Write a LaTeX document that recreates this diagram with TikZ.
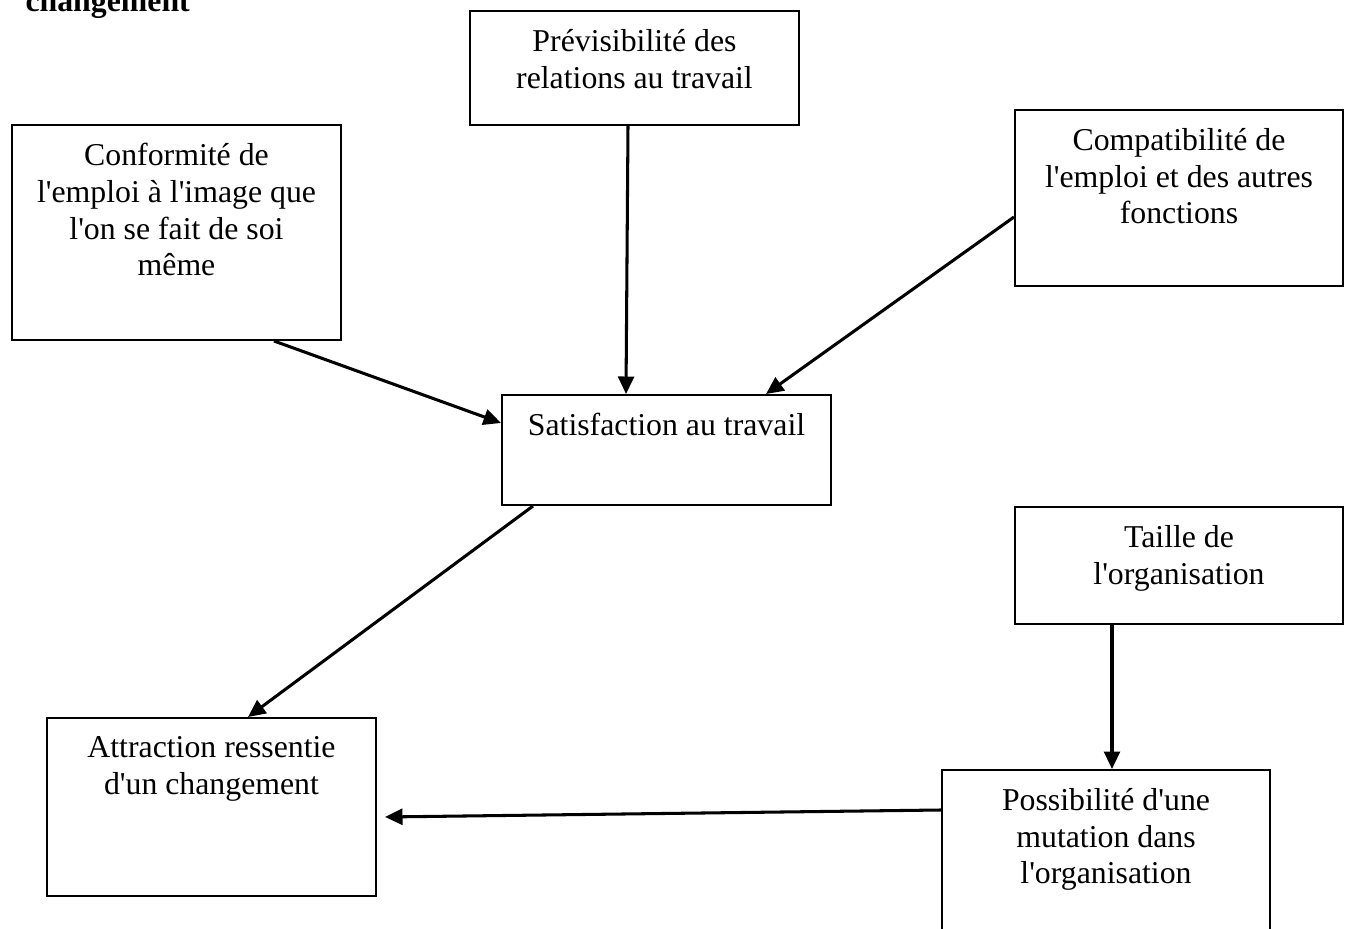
\documentclass[tikz,border=0pt]{standalone}
\usepackage{fontspec}
\setmainfont{Liberation Serif}
\usetikzlibrary{arrows.meta,calc,fit}
\newcommand\apos{\textquotesingle}
\begin{document}
\begin{tikzpicture}[x=0.3774pt,y=-0.3774pt,
  box/.style={draw, line width=0.75pt, inner sep=0pt, rectangle},
  lbl/.style={anchor=north, align=center, inner sep=0pt, font=\fontsize{12}{13.8}\selectfont},
  link/.style={line width=1.15pt, -{Triangle[length=6.6pt,width=6pt]}}]
\useasboundingbox (0,0) rectangle (1351,929);
\clip (0,0) rectangle (1351,929);

% heading fragment
\node[anchor=base west, inner sep=0pt, font=\bfseries\fontsize{12}{13.8}\selectfont] (head) at (25,12) {changement};

% boxes
\node[box, fit={(470,11) (799,125)}] (prev) {};
\node[box, fit={(12,125) (341,340)}] (conf) {};
\node[box, fit={(1015,110) (1343,286)}] (comp) {};
\node[box, fit={(502,395) (831,505)}] (sat) {};
\node[box, fit={(1015,507) (1343,624)}] (taille) {};
\node[box, fit={(47,718) (376,896)}] (attr) {};
\node[box, fit={(942,770) (1270,960)}] (poss) {};

% box texts
\node[lbl] (prevT) at ($(prev.north)+(0,19)$) {Prévisibilité des\\relations au travail};
\node[lbl] (confT) at ($(conf.north)+(0,19)$) {Conformité de\\l\apos emploi à l\apos image que\\l\apos on se fait de soi\\même};
\node[lbl] (compT) at ($(comp.north)+(0,19)$) {Compatibilité de\\l\apos emploi et des autres\\fonctions};
\node[lbl] (satT) at ($(sat.north)+(0,19)$) {Satisfaction au travail};
\node[lbl] (tailleT) at ($(taille.north)+(0,19)$) {Taille de\\l\apos organisation};
\node[lbl] (attrT) at ($(attr.north)+(0,19)$) {Attraction ressentie\\d\apos un changement};
\node[lbl] (possT) at ($(poss.north)+(0,19)$) {Possibilité d\apos une\\mutation dans\\l\apos organisation};

% connectors
\coordinate (attrEnd) at (385,817);
\draw[link] ($(prev.south)+(-6.5,0)$) -- ($(sat.north)+(-40.5,0)$);
\draw[link] ($(conf.south)+(97.5,0)$) -- ($(sat.west)+(0,-27)$);
\draw[link] ($(comp.west)+(0,19)$) -- ($(sat.north)+(99.5,0)$);
\draw[link] ($(sat.south)+(-133.5,0)$) -- ($(attr.north)+(36.5,0)$);
\draw[link] ($(taille.south)+(-67,0)$) -- ($(poss.north)+(6,0)$);
\draw[link] ($(poss.west)+(0,-55)$) -- (attrEnd);
\end{tikzpicture}
\end{document}
